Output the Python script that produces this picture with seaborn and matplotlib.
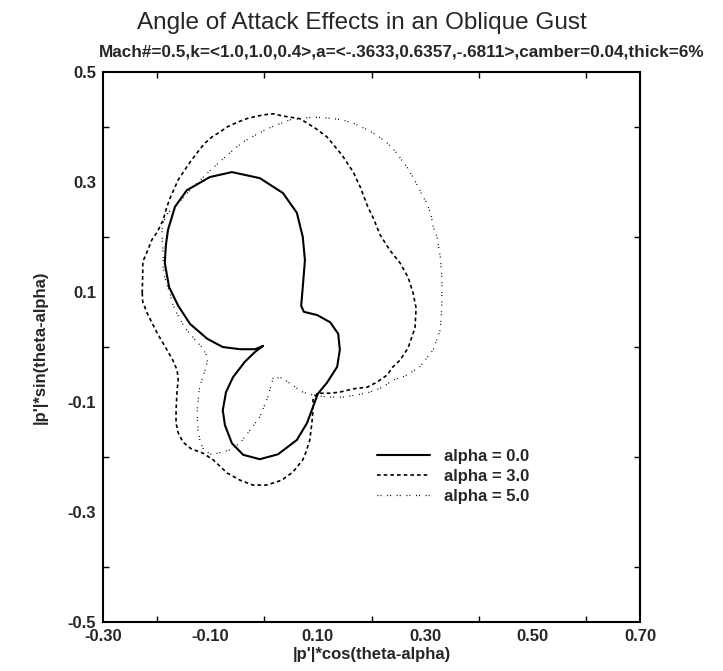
import matplotlib
matplotlib.use("Agg")
import matplotlib.pyplot as plt
from matplotlib.ticker import MultipleLocator, FixedLocator
import numpy as np
import pandas as pd
import seaborn as sns

# Polar pressure traces |p'| projected on (theta - alpha), one closed curve per angle of attack
alpha0_x = [-0.002, -0.017, -0.045, -0.077, -0.106, -0.138, -0.160, -0.177, -0.185, -0.183,
            -0.179, -0.166, -0.144, -0.101, -0.060, -0.008, 0.035, 0.061, 0.072, 0.076,
            0.072, 0.069, 0.074, 0.099, 0.123, 0.138, 0.141, 0.136, 0.117, 0.100,
            0.091, 0.080, 0.061, 0.026, -0.008, -0.039, -0.060, -0.073, -0.077, -0.071,
            -0.058, -0.036, -0.017, -0.002]
alpha0_y = [0.002, -0.004, -0.004, 0.000, 0.015, 0.042, 0.075, 0.109, 0.153, 0.185,
            0.213, 0.255, 0.285, 0.309, 0.318, 0.307, 0.280, 0.244, 0.200, 0.158,
            0.109, 0.075, 0.064, 0.058, 0.045, 0.024, -0.005, -0.036, -0.065, -0.085,
            -0.109, -0.138, -0.169, -0.195, -0.204, -0.196, -0.175, -0.142, -0.115, -0.082,
            -0.055, -0.027, -0.009, 0.002]

alpha3_x = [-0.227, -0.226, -0.226, -0.218, -0.209, -0.199, -0.188, -0.181, -0.175, -0.160,
            -0.138, -0.121, -0.110, -0.097, -0.082, -0.069, -0.049, -0.030, -0.002, 0.017,
            0.035, 0.067, 0.095, 0.117, 0.145, 0.166, 0.179, 0.193, 0.203, 0.216,
            0.234, 0.253, 0.268, 0.277, 0.283, 0.281, 0.268, 0.253, 0.240, 0.229,
            0.210, 0.192, 0.166, 0.141, 0.123, 0.099, 0.091, 0.091, 0.089, 0.085,
            0.078, 0.072, 0.054, 0.033, 0.005, -0.021, -0.045, -0.069, -0.095, -0.114,
            -0.136, -0.151, -0.160, -0.164, -0.164, -0.162, -0.160, -0.162, -0.170, -0.181,
            -0.199, -0.218, -0.226, -0.227]
alpha3_y = [0.098, 0.136, 0.155, 0.173, 0.195, 0.209, 0.231, 0.255, 0.271, 0.304,
            0.336, 0.358, 0.371, 0.382, 0.391, 0.400, 0.409, 0.416, 0.422, 0.424,
            0.420, 0.415, 0.398, 0.382, 0.349, 0.318, 0.291, 0.255, 0.235, 0.204,
            0.176, 0.153, 0.127, 0.100, 0.071, 0.035, -0.002, -0.024, -0.036, -0.051,
            -0.064, -0.073, -0.076, -0.082, -0.084, -0.084, -0.096, -0.115, -0.138, -0.169,
            -0.191, -0.205, -0.227, -0.242, -0.251, -0.251, -0.242, -0.229, -0.205, -0.193,
            -0.185, -0.173, -0.156, -0.138, -0.115, -0.078, -0.060, -0.042, -0.024, -0.005,
            0.025, 0.062, 0.082, 0.098]

alpha5_x = [0.017, 0.007, -0.008, -0.030, -0.045, -0.064, -0.086, -0.097, -0.106, -0.114,
            -0.119, -0.123, -0.125, -0.121, -0.116, -0.110, -0.106, -0.106, -0.114, -0.125,
            -0.144, -0.153, -0.164, -0.172, -0.175, -0.181, -0.185, -0.188, -0.188, -0.190,
            -0.190, -0.188, -0.179, -0.166, -0.138, -0.106, -0.073, -0.058, -0.039, -0.017,
            0.002, 0.024, 0.048, 0.067, 0.091, 0.123, 0.145, 0.166, 0.192, 0.210,
            0.229, 0.244, 0.266, 0.277, 0.287, 0.296, 0.303, 0.311, 0.315, 0.322,
            0.328, 0.331, 0.331, 0.331, 0.328, 0.315, 0.290, 0.262, 0.240, 0.221,
            0.197, 0.173, 0.147, 0.123, 0.099, 0.082, 0.072, 0.061, 0.045, 0.033,
            0.017]
alpha5_y = [-0.056, -0.091, -0.127, -0.156, -0.175, -0.187, -0.193, -0.196, -0.191, -0.184,
            -0.173, -0.151, -0.120, -0.078, -0.060, -0.042, -0.027, -0.018, -0.002, 0.009,
            0.031, 0.044, 0.064, 0.082, 0.098, 0.113, 0.127, 0.145, 0.171, 0.195,
            0.213, 0.227, 0.244, 0.255, 0.285, 0.316, 0.345, 0.358, 0.373, 0.385,
            0.395, 0.404, 0.413, 0.415, 0.418, 0.416, 0.413, 0.407, 0.395, 0.385,
            0.371, 0.356, 0.327, 0.309, 0.291, 0.273, 0.262, 0.240, 0.218, 0.200,
            0.164, 0.127, 0.104, 0.073, 0.031, -0.005, -0.036, -0.053, -0.060, -0.073,
            -0.082, -0.087, -0.091, -0.091, -0.089, -0.085, -0.082, -0.075, -0.064, -0.056,
            -0.056]

series_labels = ["alpha = 0.0", "alpha = 3.0", "alpha = 5.0"]
x_ticks = [-0.30, -0.10, 0.10, 0.30, 0.50, 0.70]
y_ticks = [0.5, 0.3, 0.1, -0.1, -0.3, -0.5]

title = "Angle of Attack Effects in an Oblique Gust"
subtitle = "Mach#=0.5,k=<1.0,1.0,0.4>,a=<-.3633,0.6357,-.6811>,camber=0.04,thick=6%"
xlabel = "|p'|*cos(theta-alpha)"
ylabel = "|p'|*sin(theta-alpha)"

sns.set_style("ticks")
plt.rcParams["font.family"] = ["Liberation Sans", "DejaVu Sans"]

fig = plt.figure(figsize=(7.23, 6.71), dpi=100)
ax = fig.add_axes([0.1425, 0.073, 0.7427, 0.8197])

styles = [
    dict(linestyle="-", lw=1.5),
    dict(linestyle=(0, (2.2, 1.8)), lw=1.2),
    dict(linestyle=(0, (0.8, 1.6, 0.8, 4.5)), lw=0.9),
]
curves = [(alpha0_x, alpha0_y), (alpha3_x, alpha3_y), (alpha5_x, alpha5_y)]
for (cx, cy), lab, st in zip(curves, series_labels, styles):
    df = pd.DataFrame({"x": cx, "y": cy})
    sns.lineplot(data=df, x="x", y="y", sort=False, estimator=None,
                 color="black", label=lab, ax=ax, **st)

ax.set_xlim(-0.30, 0.70)
ax.set_ylim(-0.5, 0.5)
ax.xaxis.set_major_locator(FixedLocator(x_ticks))
ax.yaxis.set_major_locator(FixedLocator(y_ticks))
ax.xaxis.set_minor_locator(MultipleLocator(0.1))
ax.yaxis.set_minor_locator(MultipleLocator(0.1))
ax.set_xticklabels([f"{v:.2f}" for v in x_ticks])
ax.set_yticklabels([f"{v:.1f}" for v in y_ticks])
ax.tick_params(which="both", direction="in", top=True, right=True,
               length=4, width=1, color="black")
ax.tick_params(which="major", length=0, labelsize=12, pad=5)
for lbl in ax.get_xticklabels() + ax.get_yticklabels():
    lbl.set_fontweight("bold")
for sp in ax.spines.values():
    sp.set_linewidth(1.5)
    sp.set_color("black")

ax.set_xlabel(xlabel, fontsize=12, fontweight="bold", labelpad=2)
ax.set_ylabel(ylabel, fontsize=12, fontweight="bold", labelpad=14)

fig.text(0.5, 0.965, title, ha="center", va="center", fontsize=17.5)
fig.text(0.556, 0.922, subtitle, ha="center", va="center", fontsize=12.3, fontweight="bold")

leg = ax.legend(loc="upper left", bbox_to_anchor=(0.495, 0.33), frameon=False,
                fontsize=12, handlelength=3.2, handletextpad=0.8, labelspacing=0.3,
                borderpad=0)
for t in leg.get_texts():
    t.set_fontweight("bold")

fig.savefig("out.png", dpi=100)
